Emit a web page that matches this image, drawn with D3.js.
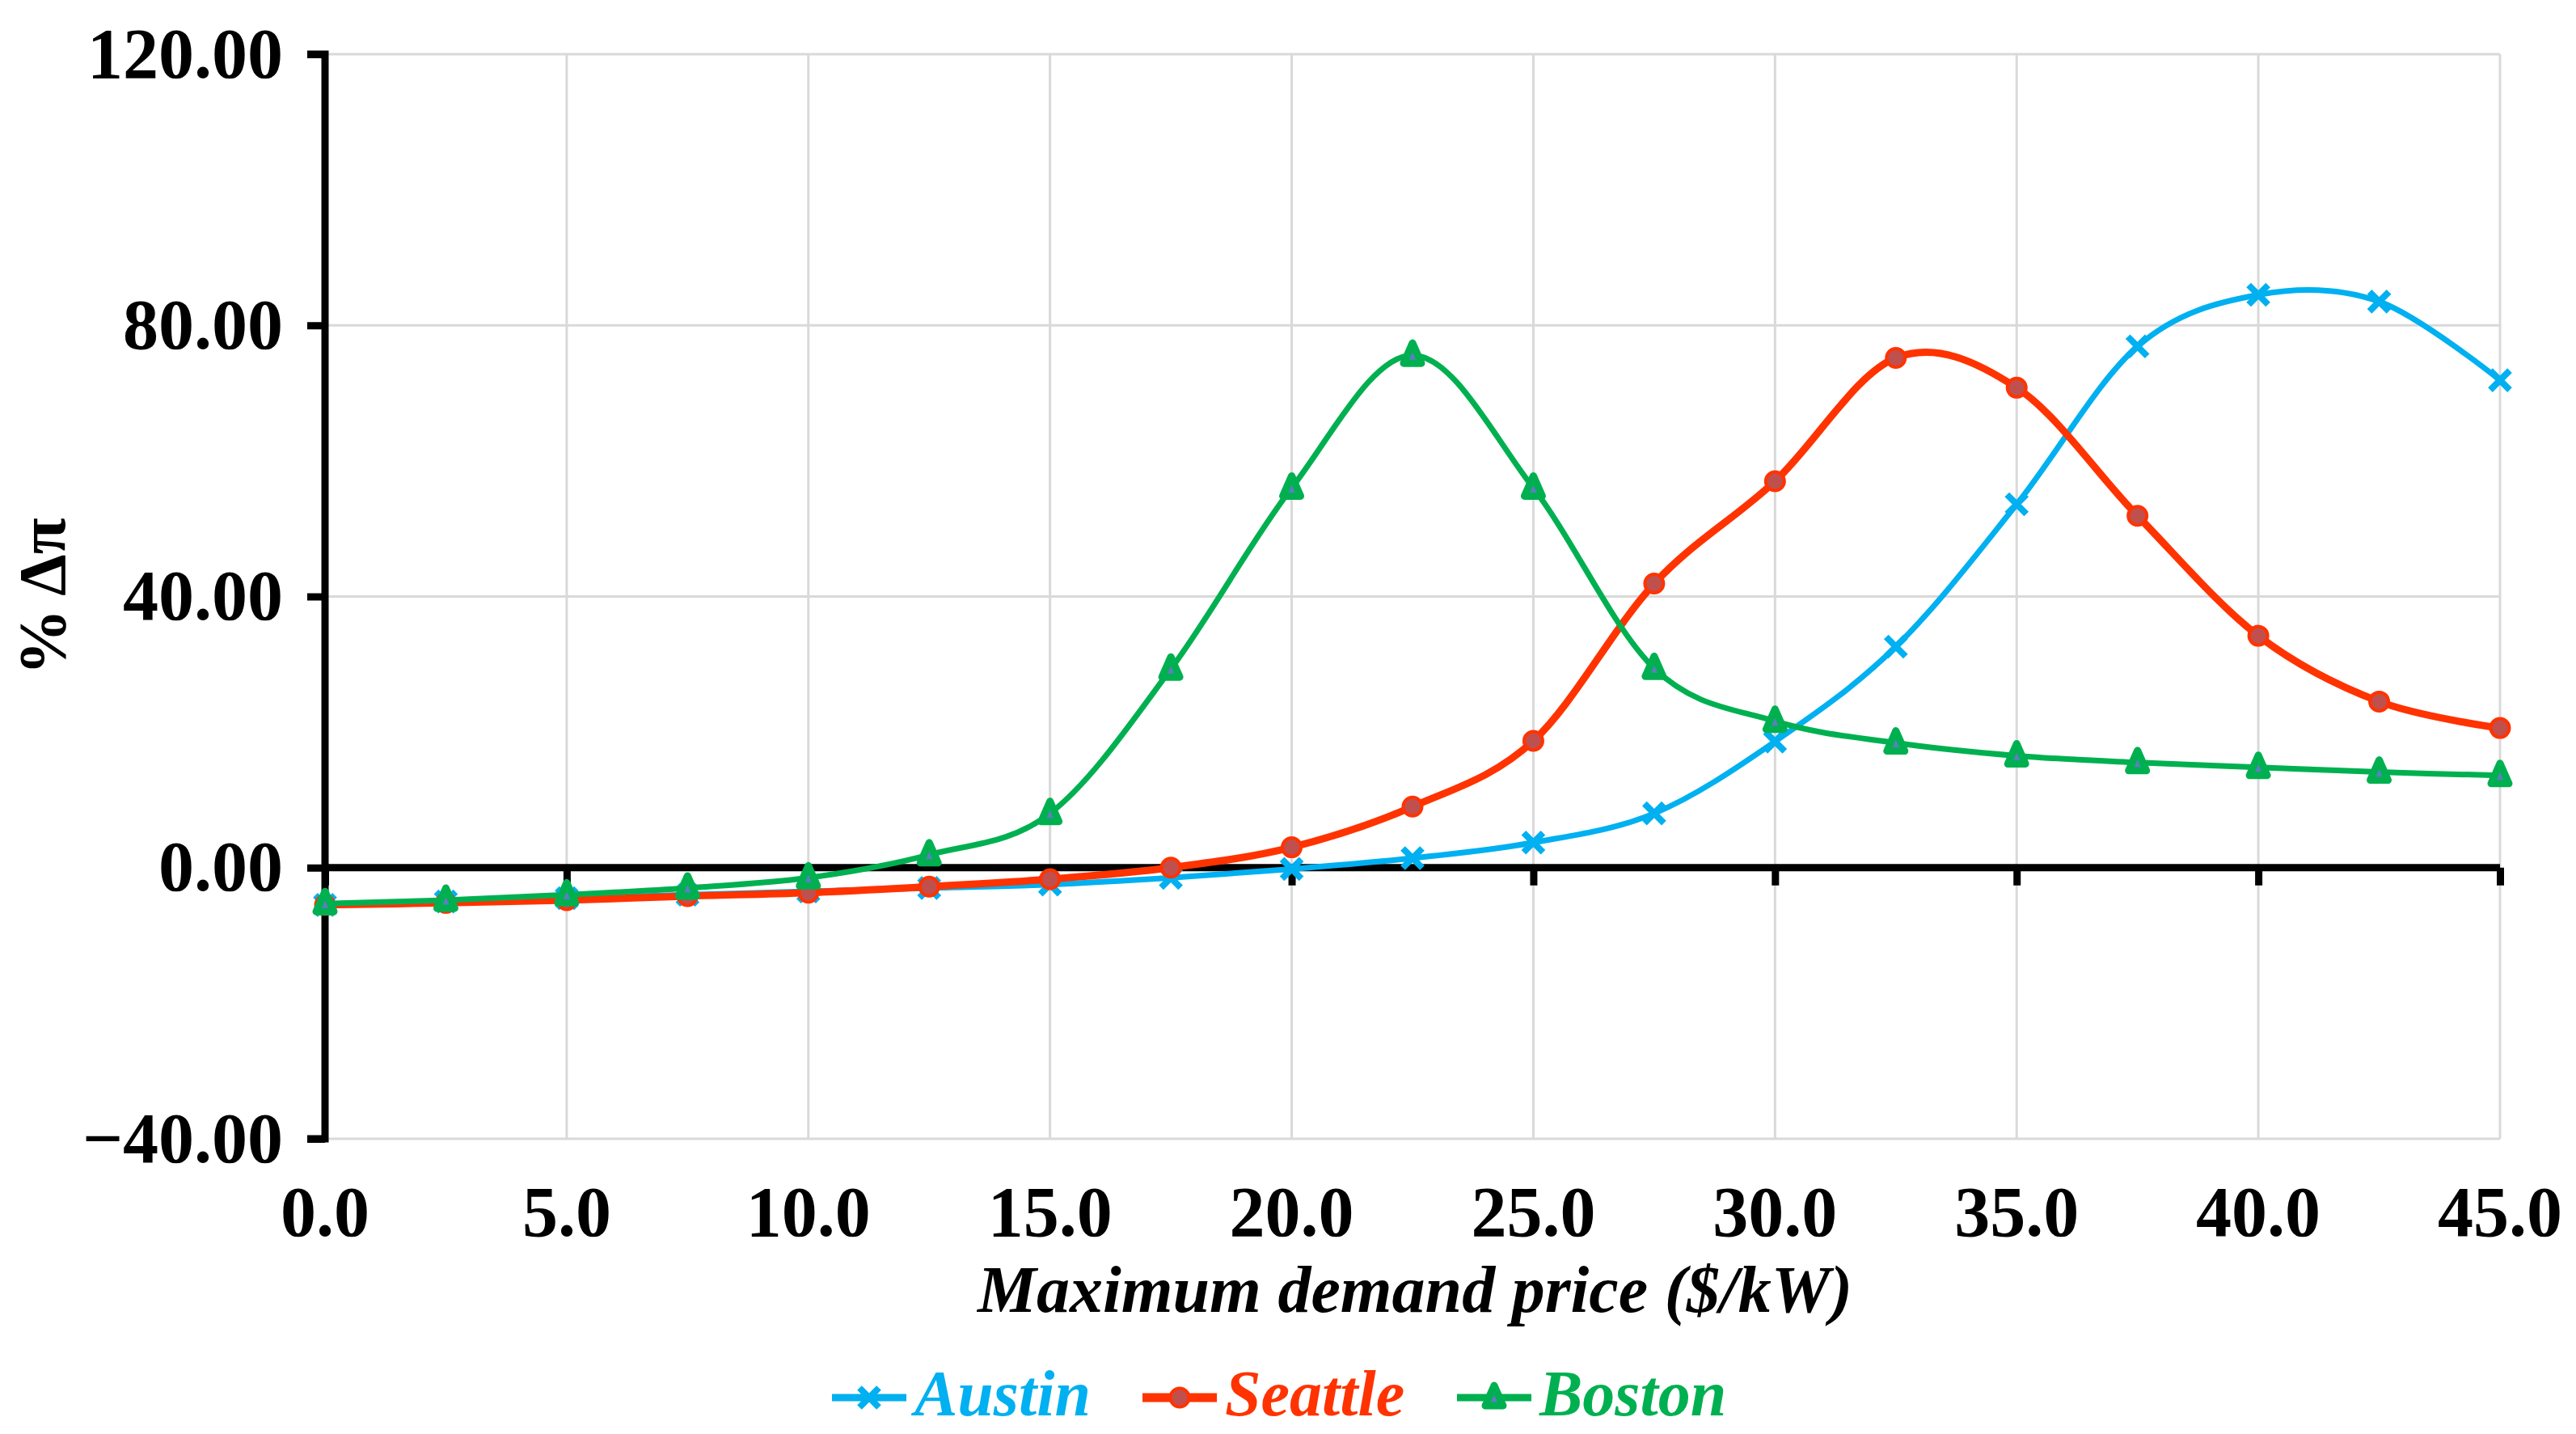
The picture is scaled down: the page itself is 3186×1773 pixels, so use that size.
<!DOCTYPE html>
<html>
<head>
<meta charset="utf-8">
<script src="https://cdn.jsdelivr.net/npm/d3@7"></script>
<style>
  body { margin: 0; background: #fff; }
  text { font-family: "Liberation Serif", "Times New Roman", serif; font-weight: bold; }
</style>
</head>
<body>
<div id="chart"></div>
<script>
// demand price steps ($/kW)
const prices = [0, 2.5, 5, 7.5, 10, 12.5, 15, 17.5, 20, 22.5, 25, 27.5, 30, 32.5, 35, 37.5, 40, 42.5, 45];

// % change in profit per city
const austin = [-5.5, -5.0, -4.5, -4.0, -3.5, -3.0, -2.5, -1.5, -0.2, 1.4, 3.7, 8.0, 18.6, 32.6, 53.6, 76.9, 84.5, 83.5, 71.9];
const seattle = [-5.5, -5.2, -4.8, -4.2, -3.7, -2.8, -1.7, 0.0, 3.0, 9.0, 18.7, 41.9, 57.0, 75.2, 70.8, 51.9, 34.2, 24.5, 20.6];
const boston = [-5.3, -4.8, -4.0, -3.0, -1.5, 1.9, 8.0, 29.3, 56.0, 75.6, 56.0, 29.4, 21.6, 18.4, 16.5, 15.5, 14.8, 14.1, 13.6];

const xTicks = [0, 5, 10, 15, 20, 25, 30, 35, 40, 45];
const yTicks = [-40, 0, 40, 80, 120];

const W = 3186, H = 1773;
const mLeft = 402, mRight = 3092, mTop = 67, mBottom = 1408;

const svg = d3.select("#chart").append("svg")
  .attr("width", W).attr("height", H)
  .attr("viewBox", [0, 0, W, H]);

const x = d3.scaleLinear().domain([0, 45]).range([mLeft, mRight]);
const y = d3.scaleLinear().domain([-40, 120]).range([mBottom, mTop]);

// grid
svg.append("g").selectAll("line").data(xTicks.slice(1)).join("line")
  .attr("x1", d => x(d)).attr("x2", d => x(d))
  .attr("y1", mTop).attr("y2", mBottom)
  .attr("stroke", "#d9d9d9").attr("stroke-width", 3);
svg.append("g").selectAll("line").data(yTicks).join("line")
  .attr("x1", mLeft).attr("x2", mRight)
  .attr("y1", d => y(d)).attr("y2", d => y(d))
  .attr("stroke", "#d9d9d9").attr("stroke-width", 3);

// y axis
const yAxis = svg.append("g")
  .attr("transform", `translate(${mLeft},0)`)
  .call(d3.axisLeft(y).tickValues(yTicks).tickSize(22).tickPadding(30)
    .tickFormat(d => (d < 0 ? "\u2212" : "") + Math.abs(d).toFixed(2)));
yAxis.select(".domain").attr("stroke", "#000").attr("stroke-width", 9)
  .attr("d", `M-22,${y(120)}H0V${y(-40)}H-22`);
yAxis.selectAll(".tick line").attr("stroke", "#000").attr("stroke-width", 9);
yAxis.selectAll(".tick text").attr("font-size", 88).attr("fill", "#000")
  .attr("font-family", "Liberation Serif").attr("font-weight", "bold");

// zero line with ticks
const xAxis = svg.append("g")
  .attr("transform", `translate(0,${y(0)})`)
  .call(d3.axisBottom(x).tickValues(xTicks).tickSize(22).tickFormat(""));
xAxis.select(".domain").attr("stroke", "#000").attr("stroke-width", 9)
  .attr("d", `M${mLeft},0H${mRight}`);
xAxis.selectAll(".tick line").attr("stroke", "#000").attr("stroke-width", 9);

// x tick labels at bottom
svg.append("g").selectAll("text").data(xTicks).join("text")
  .attr("x", d => x(d)).attr("y", 1528)
  .attr("text-anchor", "middle").attr("font-size", 88)
  .text(d => d.toFixed(1));

// axis titles
svg.append("text")
  .attr("x", 1750).attr("y", 1622)
  .attr("text-anchor", "middle").attr("font-size", 82).attr("font-style", "italic")
  .text("Maximum demand price ($/kW)");
svg.append("text")
  .attr("transform", `translate(80,${y(40)}) rotate(-90)`)
  .attr("text-anchor", "middle").attr("font-size", 82)
  .text("% \u0394\u03c0");

const series = [
  { name: "Austin", values: austin, color: "#00b0f0", width: 7, marker: "x" },
  { name: "Seattle", values: seattle, color: "#ff3300", width: 9, marker: "circle" },
  { name: "Boston", values: boston, color: "#00b050", width: 7, marker: "triangle" }
];

const lineGen = d3.line()
  .x((d, i) => x(prices[i]))
  .y(d => y(d))
  .curve(d3.curveCardinal.tension(0));

function drawMarker(g, kind, color) {
  if (kind === "x") {
    g.append("path").attr("d", "M-12,-12L12,12M-12,12L12,-12")
      .attr("stroke", color).attr("stroke-width", 8).attr("fill", "none");
  } else if (kind === "circle") {
    g.append("circle").attr("r", 11.5)
      .attr("fill", "#c0504d").attr("stroke", color).attr("stroke-width", 4);
  } else {
    g.append("path").attr("d", "M0,-15L11,10L-11,10Z")
      .attr("fill", "#5b7fc0").attr("stroke", color).attr("stroke-width", 9)
      .attr("stroke-linejoin", "round");
  }
}

series.forEach(s => {
  svg.append("path").datum(s.values)
    .attr("d", lineGen)
    .attr("fill", "none").attr("stroke", s.color).attr("stroke-width", s.width);
  s.values.forEach((v, i) => {
    const g = svg.append("g").attr("transform", `translate(${x(prices[i])},${y(v)})`);
    drawMarker(g, s.marker, s.color);
  });
});

// legend
const legendPos = [1029, 1413, 1802];
series.forEach((s, i) => {
  const lx = legendPos[i], ly = 1728;
  svg.append("line").attr("x1", lx).attr("x2", lx + 92).attr("y1", ly).attr("y2", ly)
    .attr("stroke", s.color).attr("stroke-width", s.width + 2);
  const g = svg.append("g").attr("transform", `translate(${lx + 46},${ly})`);
  drawMarker(g, s.marker, s.color);
  svg.append("text").attr("x", lx + 102).attr("y", ly + 22)
    .attr("font-size", 80).attr("font-style", "italic").attr("fill", s.color)
    .text(s.name);
});
</script>
</body>
</html>
